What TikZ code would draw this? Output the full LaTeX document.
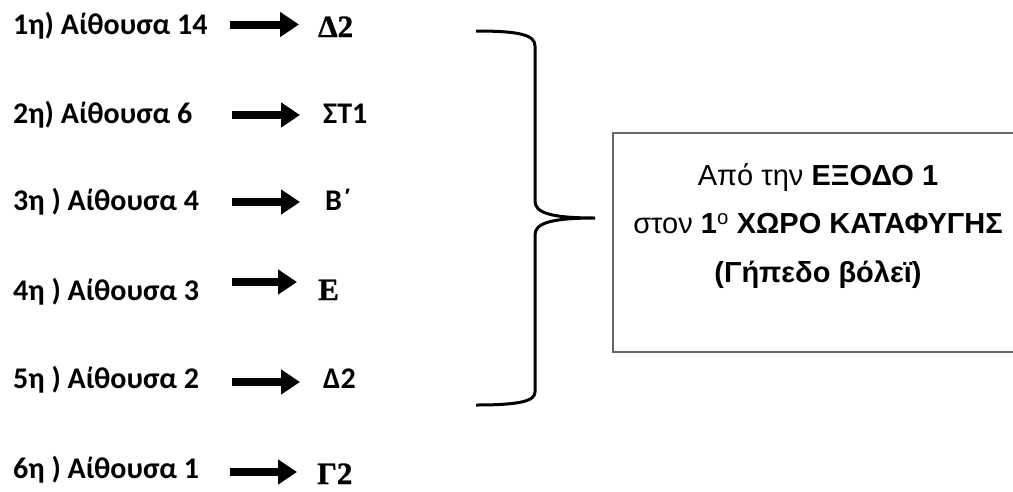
\documentclass[tikz,border=0pt]{standalone}
\usepackage{fontspec}
\usepackage{tikz}
\usetikzlibrary{arrows.meta}
\usepackage{xcolor}
\newfontfamily\calibri{Carlito}
\newfontfamily\timesbf{Liberation Serif}[UprightFont={* Bold},FakeBold=1]
\newfontfamily\arialf{Liberation Sans}

\begin{document}
\begin{tikzpicture}[x=1pt,y=-1pt]
		
		\tikzset{room/.style = {anchor=base west,inner sep=0pt,font=\calibri\bfseries\fontsize{30}{36}\selectfont}}
		\tikzset{dest/.style = {room}}
		\tikzset{destser/.style = {anchor=base west,inner sep=0pt,font=\timesbf\fontsize{31}{36}\selectfont}}
		\tikzset{go/.style = {-{Triangle[length=19pt,width=24pt]},line width=8pt}}
		\tikzset{shelterbox/.style = {draw=black!60,line width=2pt,minimum width=410pt,minimum height=219pt}}
		\tikzset{exittext/.style = {align=center,inner sep=0pt,font=\arialf\fontsize{29}{48.5}\selectfont}}
		\useasboundingbox (0,0) rectangle (1013,491);
		\node[room] (R1) at (13,34)  {1η) Αίθουσα 14};
		\node[room] (R2) at (13,123) {2η) Αίθουσα 6};
		\node[room] (R3) at (13,210) {3η ) Αίθουσα 4};
		\node[room] (R4) at (13,300) {4η ) Αίθουσα 3};
		\node[room] (R5) at (13,388) {5η ) Αίθουσα 2};
		\node[room] (R6) at (13,478) {6η ) Αίθουσα 1};
		\node[destser] (D1) at (318,37)  {Δ2};
		\node[dest] (D2) at (323,123) {ΣΤ1};
		\node[dest] (D3) at (325,210) {Β΄};
		\node[destser] (D4) at (318,300) {Ε};
		\node[dest] (D5) at (323,388) {Δ2};
		\node[destser] (D6) at (317,484) {Γ2};
		\coordinate (a1) at (230,24.5);
		\coordinate (b1) at (299,24.5);
		\coordinate (a2) at (232,115);
		\coordinate (b2) at (300,115);
		\coordinate (a3) at (232,202);
		\coordinate (b3) at (300,202);
		\coordinate (a4) at (232,282);
		\coordinate (b4) at (297,282);
		\coordinate (a5) at (232,382);
		\coordinate (b5) at (300,382);
		\coordinate (a6) at (230,472);
		\coordinate (b6) at (297,472);
		\node[shelterbox] (box) at (818,242.5) {};
		\node[exittext] (exit) at (818,226) {Από την {\bfseries ΕΞΟΔΟ 1}\\στον {\bfseries 1\textsuperscript{\mdseries ο} ΧΩΡΟ ΚΑΤΑΦΥΓΗΣ}\\{\bfseries (Γήπεδο βόλεϊ)}};
		%arrows
		\draw[go] (a1) to (b1);
		\draw[go] (a2) to (b2);
		\draw[go] (a3) to (b3);
		\draw[go] (a4) to (b4);
		\draw[go] (a5) to (b5);
		\draw[go] (a6) to (b6);
		%brace
		\draw[line width=3pt] (476,31) .. controls (520,31) and (535,35) .. (535,46) -- (535,201)
			.. controls (535,212) and (548,218) .. (595,218)
			.. controls (548,218) and (535,224) .. (535,235) -- (535,392)
			.. controls (535,401) and (520,405) .. (476,405);
		\end{tikzpicture}
\end{document}
